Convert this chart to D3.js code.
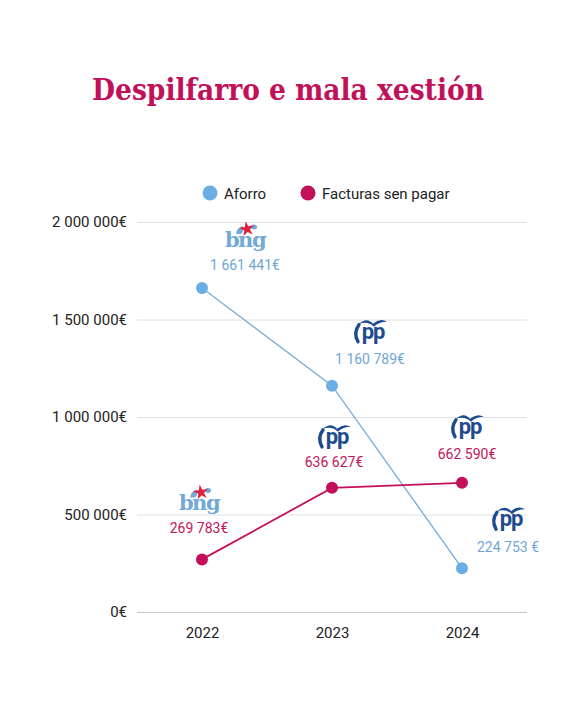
<!DOCTYPE html>
<html>
<head>
<meta charset="utf-8">
<script src="https://cdn.jsdelivr.net/npm/d3@7"></script>
<style>
	body { margin: 0; background: #fff; }
	svg { display: block; }
</style>
</head>
<body>
<svg id="chart"></svg>
<script>
// data
var years = ['2022', '2023', '2024'];
var aforro = [1661441, 1160789, 224753];
var facturas = [269783, 636627, 662590];
var aforroParty = ['bng', 'pp', 'pp'];
var facturasParty = ['bng', 'pp', 'pp'];
var aforroSuffix = ['€', '€', ' €'];
var facturasSuffix = ['€', '€', '€'];
var yTicks = [0, 500000, 1000000, 1500000, 2000000];
var seriesNames = ['Aforro', 'Facturas sen pagar'];

// annotation offsets from each point (layout only)
var aforroOffsets = [{dx: 43, ly: -18, gy: -48}, {dx: 38, ly: -22, gy: -54}, {dx: 46, ly: -16, gy: -49}];
var facturasOffsets = [{dx: -3, ly: -26, gy: -56}, {dx: 2, ly: -21, gy: -51}, {dx: 5, ly: -24, gy: -56}];

var W = 576, H = 720;
var colorBlue = '#6aaee3', colorRed = '#c4105a';
var lineBlue = '#7ab0da';
var pinkTitle = '#c1115a';
var ppBlue = '#1e4b8e';
var bngBlue = '#72a9d6';
var bngRed = '#e0203c';

var margin = {top: 222, left: 137, right: 49, bottom: 108};
var width = W - margin.left - margin.right;
var height = H - margin.top - margin.bottom;

var svg = d3.select('#chart').attr('width', W).attr('height', H);

var locale = d3.formatLocale({decimal: ',', thousands: ' ', grouping: [3], currency: ['', '€']});
var fmt = locale.format(',d');

// title
var title = svg.append('text')
	.attr('x', W / 2)
	.attr('y', 100)
	.attr('text-anchor', 'middle')
	.style('font-family', '"DejaVu Serif", serif')
	.style('font-stretch', 'condensed')
	.style('font-weight', 'bold')
	.style('font-size', '32px')
	.style('fill', pinkTitle)
	.text('Despilfarro e mala xestión');
var tw = title.node().getComputedTextLength();
title.style('font-size', (32 * 392 / tw) + 'px');

// legend
var legend = svg.append('g').attr('transform', 'translate(0,193)');
var legendX = [210, 308];
var legendColors = [colorBlue, colorRed];
seriesNames.forEach(function(name, i){
	legend.append('circle')
		.attr('cx', legendX[i]).attr('cy', 0).attr('r', 7.5)
		.style('fill', legendColors[i]);
	legend.append('text')
		.attr('x', legendX[i] + 14).attr('y', 5.5)
		.style('font-family', 'Roboto, sans-serif')
		.style('font-size', '15px')
		.style('fill', '#222')
		.text(name);
});

var g = svg.append('g').attr('transform', 'translate(' + margin.left + ',' + margin.top + ')');

var x = d3.scalePoint().domain(years).range([0, width]).padding(0.5);
var y = d3.scaleLinear().domain([0, 2000000]).range([height, 0]);

// grid + y labels
var yAxis = d3.axisLeft(y)
	.tickValues(yTicks)
	.tickSize(-width)
	.tickPadding(10)
	.tickFormat(function(d){ return fmt(d) + '€'; });
var ya = g.append('g').call(yAxis);
ya.select('.domain').remove();
ya.selectAll('.tick line').style('stroke', '#e0e0e0').style('stroke-width', 1);
ya.selectAll('.tick').filter(function(d){ return d === 0; }).select('line').style('stroke', '#c4c4c4');
ya.selectAll('.tick text')
	.style('font-family', 'Roboto, sans-serif')
	.style('font-size', '15px')
	.style('fill', '#222');

// x labels
var xAxis = d3.axisBottom(x).tickSize(0).tickPadding(15);
var xa = g.append('g').attr('transform', 'translate(0,' + height + ')').call(xAxis);
xa.select('.domain').remove();
xa.selectAll('.tick text')
	.style('font-family', 'Roboto, sans-serif')
	.style('font-size', '15px')
	.style('fill', '#222');

function drawSeries(values, color, lineColor, lineW){
	var pts = values.map(function(v, i){ return [x(years[i]), y(v)]; });
	g.append('path')
		.datum(pts)
		.attr('d', d3.line())
		.style('fill', 'none')
		.style('stroke', lineColor)
		.style('stroke-width', lineW);
	g.selectAll(null)
		.data(pts)
		.enter()
		.append('circle')
		.attr('cx', function(d){ return d[0]; })
		.attr('cy', function(d){ return d[1]; })
		.attr('r', 6)
		.style('fill', color);
	return pts;
}

function drawPP(parent, cx, cy){
	var lg = parent.append('g').attr('transform', 'translate(' + cx + ',' + cy + ')');
	lg.append('path')
		.attr('d', 'M-11,-7 Q-17,1 -12,10')
		.style('fill', 'none').style('stroke', ppBlue).style('stroke-width', 3.4)
		.style('stroke-linecap', 'round');
	lg.append('path')
		.attr('d', 'M-11,-8 Q-3,-15 3,-8 Q10,-14 17,-10 Q9,-10 4,-5 Q-2,-11 -11,-8 Z')
		.style('fill', ppBlue);
	lg.append('text')
		.attr('x', 3).attr('y', 7)
		.attr('text-anchor', 'middle')
		.style('font-family', 'Roboto, sans-serif')
		.style('font-weight', 'bold')
		.style('font-size', '22px')
		.style('letter-spacing', '-1px')
		.style('fill', ppBlue)
		.text('pp');
}

function drawBNG(parent, cx, cy){
	var lg = parent.append('g').attr('transform', 'translate(' + cx + ',' + cy + ')');
	lg.append('path')
		.attr('d', 'M-9,-6 Q-8,-13 -2,-14 Q-1,-9 -4,-6 Z')
		.style('fill', bngBlue);
	lg.append('ellipse')
		.attr('cx', 9).attr('cy', -13).attr('rx', 3).attr('ry', 2.5)
		.style('fill', bngBlue);
	lg.append('path')
		.attr('d', d3.symbol().type(d3.symbolStar).size(70)())
		.attr('transform', 'translate(2,-11) rotate(-10)')
		.style('fill', bngRed);
	lg.append('text')
		.attr('x', 0).attr('y', 7)
		.attr('text-anchor', 'middle')
		.style('font-family', '"DejaVu Serif", serif')
		.style('font-weight', 'bold')
		.style('font-size', '21px')
		.style('letter-spacing', '-1.5px')
		.style('fill', bngBlue)
		.text('bng');
}

function annotate(pts, values, parties, suffix, offsets, color){
	pts.forEach(function(p, i){
		var o = offsets[i];
		g.append('text')
			.attr('x', p[0] + o.dx).attr('y', p[1] + o.ly)
			.attr('text-anchor', 'middle')
			.style('font-family', 'Roboto, sans-serif')
			.style('font-size', '14px')
			.style('fill', color)
			.text(fmt(values[i]) + suffix[i]);
		if(parties[i] === 'pp'){
			drawPP(g, p[0] + o.dx, p[1] + o.gy);
		}else{
			drawBNG(g, p[0] + o.dx, p[1] + o.gy);
		}
	});
}

var aPts = drawSeries(aforro, colorBlue, lineBlue, 1.4);
var fPts = drawSeries(facturas, colorRed, colorRed, 1.8);
annotate(aPts, aforro, aforroParty, aforroSuffix, aforroOffsets, '#6fa6d6');
annotate(fPts, facturas, facturasParty, facturasSuffix, facturasOffsets, '#c2145a');
</script>
</body>
</html>
